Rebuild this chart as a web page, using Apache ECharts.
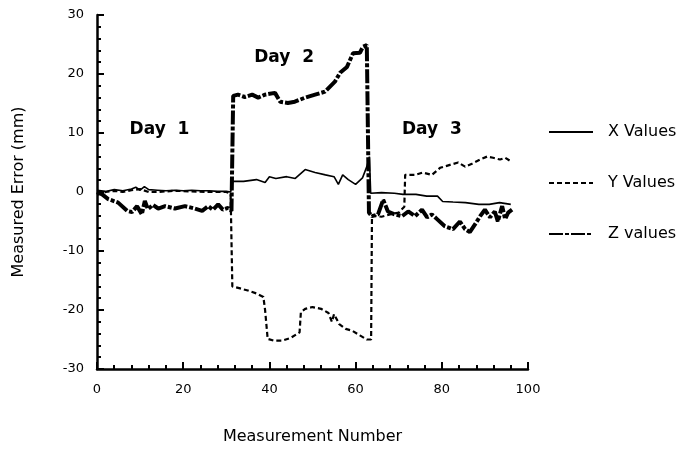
<!DOCTYPE html>
<html>
<head>
<meta charset="utf-8">
<script src="https://cdn.jsdelivr.net/npm/echarts@6/dist/echarts.min.js"></script>
<style>
  html, body { margin: 0; padding: 0; background: #fff; }
  #chart { width: 685px; height: 450px; }
</style>
</head>
<body>
<div id="chart"></div>
<script>
// series names
const seriesNames = ['X Values', 'Y Values', 'Z values']

// [measurement number, error mm]
const xPoints = [
  [0, 0.3], [2, 0.1], [4, 0.4], [6, 0.2], [8, 0.5], [9, 0.8], [10, 0.3], [11, 0.9], [12, 0.4],
  [14, 0.3], [16, 0.2], [18, 0.3], [20, 0.2], [22, 0.3], [24, 0.2], [26, 0.2], [28, 0.1], [30, 0.1], [31, 0],
  [31.5, 1.8], [34, 1.8], [37, 2.1], [39, 1.6], [40, 2.6], [41.5, 2.3], [44, 2.6], [46, 2.3], [48.3, 3.8],
  [50.6, 3.3], [53, 2.9], [55, 2.6], [56, 1.3], [57, 2.9], [58.3, 2.1], [60, 1.3], [61.6, 2.4], [62.6, 4.3], [63.2, 6],
  [63.5, -0.2], [66, -0.1], [69, -0.2], [71, -0.4], [74, -0.4], [76.5, -0.7], [79, -0.7], [80.2, -1.6],
  [82.6, -1.7], [85.5, -1.8], [88.6, -2.1], [91, -2.1], [93.4, -1.8], [96, -2.1]
]

const yPoints = [
  [0, -0.5], [2, 0], [4, 0.2], [6, 0], [8, 0.3], [10, 0.5], [12, 0], [14, 0], [18, 0.2], [22, 0.1], [26, 0], [30, 0], [31, -0.3],
  [31.4, -16], [33, -16.3], [35, -16.7], [37, -17.2], [38.6, -17.8], [39, -20], [39.6, -24.9], [41, -25.2], [43, -25.2],
  [45, -24.7], [47, -23.8], [47.3, -20.4], [48.3, -19.8], [50, -19.5], [52, -19.8], [53.7, -20.5], [54.5, -22], [55, -20.7],
  [56.2, -22.4], [57.7, -23.2], [59.2, -23.5], [61, -24.3], [62.6, -25],
  [63.6, -25], [63.8, -4], [66, -4.2], [68, -3.8], [70, -3.5], [71.3, -2.5],
  [71.5, 2.9], [73.8, 2.9], [75.6, 3.3], [77.7, 2.9], [79.6, 4.1], [81.9, 4.6], [83.8, 5], [85.4, 4.3], [87, 4.8],
  [88.9, 5.5], [90.5, 6], [91.9, 5.8], [93.5, 5.5], [94.7, 5.8], [95.8, 5.3]
]

const zPoints = [
  [0, 0], [1.2, -0.4], [2.6, -1.2], [4.9, -1.8], [7, -3.2], [8.1, -3.4], [9.3, -2.4], [10.4, -3.8], [11.1, -1.5], [11.8, -2.9],
  [13, -2.2], [14.2, -2.8], [15.8, -2.4], [18.1, -2.8], [20.4, -2.4], [22.7, -2.8], [24.4, -3.2], [25.8, -2.4], [26.9, -3],
  [28.1, -2.1], [29.2, -3], [30.4, -2.7], [31.2, -3.2],
  [31.6, 16.3], [32.7, 16.5], [34.3, 16.1], [36, 16.5], [37.4, 16], [39, 16.5], [41.3, 16.8], [42.5, 15.3], [44.3, 15.1],
  [45.9, 15.3], [48.3, 16], [50.6, 16.5], [52.9, 17], [55.2, 18.7], [56.4, 20.2], [58, 21.2], [59.4, 23.5], [61, 23.6],
  [61.7, 24.6], [62.6, 24.9],
  [63.1, -3.5], [63.8, -4.1], [65.2, -3.8], [66.4, -1.3], [67.5, -3.3], [69.1, -3.8], [70.8, -4.1], [72.2, -3.3], [73.8, -4.1],
  [75.4, -3], [76.6, -4.3], [77.7, -3.8], [78.9, -4.6], [80.7, -5.8], [82.6, -6.3], [84.2, -5], [85.4, -6.3], [86.5, -6.8],
  [87.7, -5.5], [88.9, -4.1], [90, -3], [91.2, -4.3], [92.3, -3.3], [93, -5], [94, -2.4], [94.7, -4.6], [95.4, -3.5], [96.3, -3]
]

// day annotations
const dayLabels = ['Day  1', 'Day  2', 'Day  3']
const dayCoords = [[14.5, 10.5], [43.4, 22.8], [77.7, 10.5]]

const font = 'DejaVu Sans'

const chart = echarts.init(document.getElementById('chart'))

const baseLine = {
  type: 'line',
  symbol: 'none',
  silent: true,
  animation: false,
  z: 3
}

const option = {
  backgroundColor: '#fff',
  grid: {
    left: 97,
    right: 157,
    top: 15,
    bottom: 80
  },
  legend: {
    orient: 'vertical',
    left: 548,
    top: 124,
    padding: 0,
    itemWidth: 44,
    itemHeight: 14,
    itemGap: 35,
    itemStyle: { opacity: 0, borderWidth: 0 },
    textStyle: {
      fontFamily: font,
      fontSize: 16,
      color: '#000',
      padding: [0, 0, 0, 10]
    },
    data: seriesNames
  },
  xAxis: {
    type: 'value',
    min: 0,
    max: 100,
    interval: 20,
    name: 'Measurement Number',
    nameLocation: 'middle',
    nameGap: 60,
    nameTextStyle: { fontFamily: font, fontSize: 16, color: '#000' },
    splitLine: { show: false },
    axisLine: { onZero: false, lineStyle: { color: '#000', width: 2.5 } },
    axisTick: { inside: true, length: 7, lineStyle: { color: '#000', width: 2 } },
    minorTick: { show: true, splitNumber: 5, length: 4, lineStyle: { color: '#000', width: 2 } },
    axisLabel: { fontFamily: font, fontSize: 13, color: '#000', margin: 14 }
  },
  yAxis: {
    type: 'value',
    min: -30,
    max: 30,
    interval: 10,
    name: 'Measured Error (mm)',
    nameLocation: 'middle',
    nameGap: 70,
    nameTextStyle: { fontFamily: font, fontSize: 16, color: '#000' },
    splitLine: { show: false },
    axisLine: { onZero: false, lineStyle: { color: '#000', width: 2.5 } },
    axisTick: { inside: true, length: 7, lineStyle: { color: '#000', width: 2 } },
    minorTick: { show: true, splitNumber: 5, length: 4, lineStyle: { color: '#000', width: 2 } },
    axisLabel: { fontFamily: font, fontSize: 13, color: '#000', margin: 13 }
  },
  series: [
    {
      ...baseLine,
      name: seriesNames[0],
      data: xPoints,
      color: '#000',
      lineStyle: { color: '#000', width: 1.6, type: 'solid' },
      markPoint: {
        symbol: 'circle',
        symbolSize: 1,
        silent: true,
        itemStyle: { color: 'rgba(0,0,0,0)' },
        label: {
          show: true,
          position: 'inside',
          fontFamily: font,
          fontWeight: 'bold',
          fontSize: 17,
          color: '#000',
          formatter: (p) => p.name
        },
        data: dayLabels.map((name, i) => ({ name, coord: dayCoords[i] }))
      }
    },
    {
      ...baseLine,
      name: seriesNames[1],
      data: yPoints,
      color: '#000',
      lineStyle: { color: '#000', width: 2.2, type: [5, 3] }
    },
    {
      ...baseLine,
      name: seriesNames[2],
      data: zPoints,
      color: '#000',
      lineStyle: { color: '#000', width: 4, type: [14, 2, 4, 2] }
    }
  ]
}

chart.setOption(option)
</script>
</body>
</html>
